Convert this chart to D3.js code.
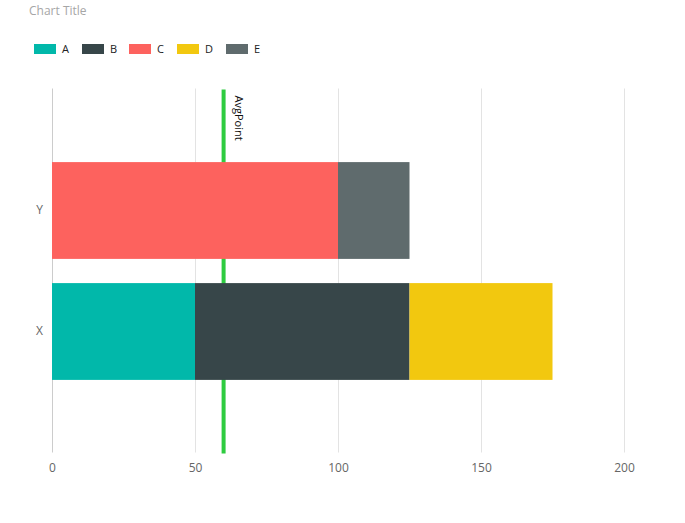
<!DOCTYPE html>
<html><head><meta charset="utf-8">
<script src="https://cdn.jsdelivr.net/npm/d3@7"></script>
<style>body{margin:0;background:#fff;font-family:"Open Sans","Segoe UI",sans-serif;}</style>
</head><body>
<svg id="c" width="685" height="523"></svg>
<script>
const categories = ["Y", "X"];
const seriesNames = ["A", "B", "C", "D", "E"];
const seriesColors = ["#01B8AA", "#374649", "#FD625E", "#F2C80F", "#5F6B6D"];
const valuesA = [0, 50];
const valuesB = [0, 75];
const valuesC = [100, 0];
const valuesD = [0, 50];
const valuesE = [25, 0];
const xTicks = [0, 50, 100, 150, 200];
const avgPoint = 60;
const avgLabel = "AvgPoint";
const title = "Chart Title";

(function () {
const svg = d3.select("#c");
const plotTop = 89.5, plotBottom = 452.5;
const x = d3.scaleLinear().domain([0, 200]).range([52, 624]);
const y = d3.scaleBand().domain(categories).range([plotTop, plotBottom]).paddingInner(0.2).paddingOuter(0.6);

svg.append("text").attr("x", 29).attr("y", 15).attr("fill", "#a6a6a6").attr("font-size", 12).text(title);

// legend
const legX = [34, 82, 129, 177, 226];
seriesNames.forEach((n, i) => {
  svg.append("rect").attr("x", legX[i]).attr("y", 44).attr("width", 22).attr("height", 10).attr("fill", seriesColors[i]);
  svg.append("text").attr("x", legX[i] + 28).attr("y", 53).attr("font-size", 11).attr("fill", "#222").text(n);
});

// gridlines
svg.append("g").selectAll("line").data(xTicks).join("line")
  .attr("x1", d => x(d) + 0.5).attr("x2", d => x(d) + 0.5)
  .attr("y1", plotTop - 1).attr("y2", plotBottom)
  .attr("stroke", d => d === 0 ? "#ccc" : "#e3e3e3").attr("stroke-width", 1);

// x axis
const xAxis = d3.axisBottom(x).tickValues(xTicks).tickSize(0).tickPadding(0);
const gx = svg.append("g").attr("transform", `translate(0,${plotBottom + 11})`).call(xAxis);
gx.select(".domain").remove();
gx.selectAll("text").attr("fill", "#666").attr("font-size", 12).attr("font-family", "'Open Sans',sans-serif");

// y axis
const yAxis = d3.axisLeft(y).tickSize(0).tickPadding(9);
const gy = svg.append("g").attr("transform", `translate(${x(0)},0)`).call(yAxis);
gy.select(".domain").remove();
gy.selectAll("text").attr("fill", "#666").attr("font-size", 12).attr("font-family", "'Open Sans',sans-serif");

// avg line (behind bars)
svg.append("line").attr("x1", x(avgPoint)).attr("x2", x(avgPoint))
  .attr("y1", plotTop).attr("y2", plotBottom + 1)
  .attr("stroke", "#2ecc40").attr("stroke-width", 4);
svg.append("text").attr("transform", `translate(${x(avgPoint) + 11},${plotTop + 6}) rotate(90)`)
  .attr("font-size", 11).attr("fill", "#111").text(avgLabel);

// stacked bars
const table = categories.map((c, i) => ({cat: c, A: valuesA[i], B: valuesB[i], C: valuesC[i], D: valuesD[i], E: valuesE[i]}));
const stack = d3.stack().keys(seriesNames)(table);
svg.append("g").selectAll("g").data(stack).join("g")
  .attr("fill", (d, i) => seriesColors[i])
  .selectAll("rect").data(d => d.filter(p => p[1] > p[0])).join("rect")
  .attr("x", d => x(d[0])).attr("width", d => x(d[1]) - x(d[0]))
  .attr("y", d => y(d.data.cat)).attr("height", y.bandwidth());
})();
</script>
</body></html>
